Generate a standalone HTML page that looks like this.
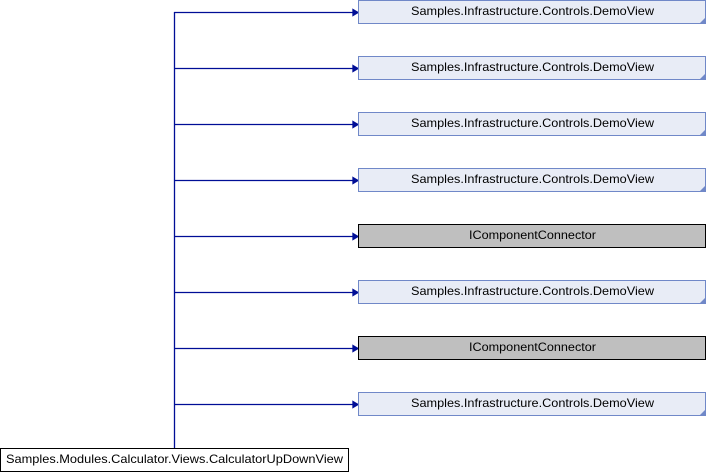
<!DOCTYPE html>
<html><head><meta charset="utf-8"><style>
html,body{margin:0;padding:0;background:#fff;}
svg{display:block;}
text{font-family:"Liberation Sans",sans-serif;font-size:12px;}
</style></head><body>
<svg width="706" height="472" viewBox="0 0 706 472" xmlns="http://www.w3.org/2000/svg">
<line x1="174.5" y1="12" x2="174.5" y2="448" stroke="#000e96" stroke-width="1.3"/>
<g stroke="#000e96" stroke-width="1.3" fill="#000e96">
<line x1="174" y1="12.5" x2="355" y2="12.5"/><polygon points="353,9.5 358,12.5 353,15.5"/>
<line x1="174" y1="68.5" x2="355" y2="68.5"/><polygon points="353,65.5 358,68.5 353,71.5"/>
<line x1="174" y1="124.5" x2="355" y2="124.5"/><polygon points="353,121.5 358,124.5 353,127.5"/>
<line x1="174" y1="180.5" x2="355" y2="180.5"/><polygon points="353,177.5 358,180.5 353,183.5"/>
<line x1="174" y1="236.5" x2="355" y2="236.5"/><polygon points="353,233.5 358,236.5 353,239.5"/>
<line x1="174" y1="292.5" x2="355" y2="292.5"/><polygon points="353,289.5 358,292.5 353,295.5"/>
<line x1="174" y1="348.5" x2="355" y2="348.5"/><polygon points="353,345.5 358,348.5 353,351.5"/>
<line x1="174" y1="404.5" x2="355" y2="404.5"/><polygon points="353,401.5 358,404.5 353,407.5"/>
</g>
<g>
<rect x="358.5" y="0.5" width="347" height="23" fill="#e8ecf6" stroke="#7088c8"/><polygon points="705,18 705,23 700,23" fill="#7088c8"/><text x="411" y="15" textLength="243" lengthAdjust="spacingAndGlyphs">Samples.Infrastructure.Controls.DemoView</text>
<rect x="358.5" y="56.5" width="347" height="23" fill="#e8ecf6" stroke="#7088c8"/><polygon points="705,74 705,79 700,79" fill="#7088c8"/><text x="411" y="71" textLength="243" lengthAdjust="spacingAndGlyphs">Samples.Infrastructure.Controls.DemoView</text>
<rect x="358.5" y="112.5" width="347" height="23" fill="#e8ecf6" stroke="#7088c8"/><polygon points="705,130 705,135 700,135" fill="#7088c8"/><text x="411" y="127" textLength="243" lengthAdjust="spacingAndGlyphs">Samples.Infrastructure.Controls.DemoView</text>
<rect x="358.5" y="168.5" width="347" height="23" fill="#e8ecf6" stroke="#7088c8"/><polygon points="705,186 705,191 700,191" fill="#7088c8"/><text x="411" y="183" textLength="243" lengthAdjust="spacingAndGlyphs">Samples.Infrastructure.Controls.DemoView</text>
<rect x="358.5" y="224.5" width="347" height="23" fill="#bfbfbf" stroke="#000"/><text x="469" y="239" textLength="127" lengthAdjust="spacingAndGlyphs">IComponentConnector</text>
<rect x="358.5" y="280.5" width="347" height="23" fill="#e8ecf6" stroke="#7088c8"/><polygon points="705,298 705,303 700,303" fill="#7088c8"/><text x="411" y="295" textLength="243" lengthAdjust="spacingAndGlyphs">Samples.Infrastructure.Controls.DemoView</text>
<rect x="358.5" y="336.5" width="347" height="23" fill="#bfbfbf" stroke="#000"/><text x="469" y="351" textLength="127" lengthAdjust="spacingAndGlyphs">IComponentConnector</text>
<rect x="358.5" y="392.5" width="347" height="23" fill="#e8ecf6" stroke="#7088c8"/><polygon points="705,410 705,415 700,415" fill="#7088c8"/><text x="411" y="407" textLength="243" lengthAdjust="spacingAndGlyphs">Samples.Infrastructure.Controls.DemoView</text>
<rect x="0.5" y="448.5" width="348" height="23" fill="#fff" stroke="#000"/><text x="6" y="463" textLength="337" lengthAdjust="spacingAndGlyphs">Samples.Modules.Calculator.Views.CalculatorUpDownView</text>
</g>
</svg>
</body></html>
